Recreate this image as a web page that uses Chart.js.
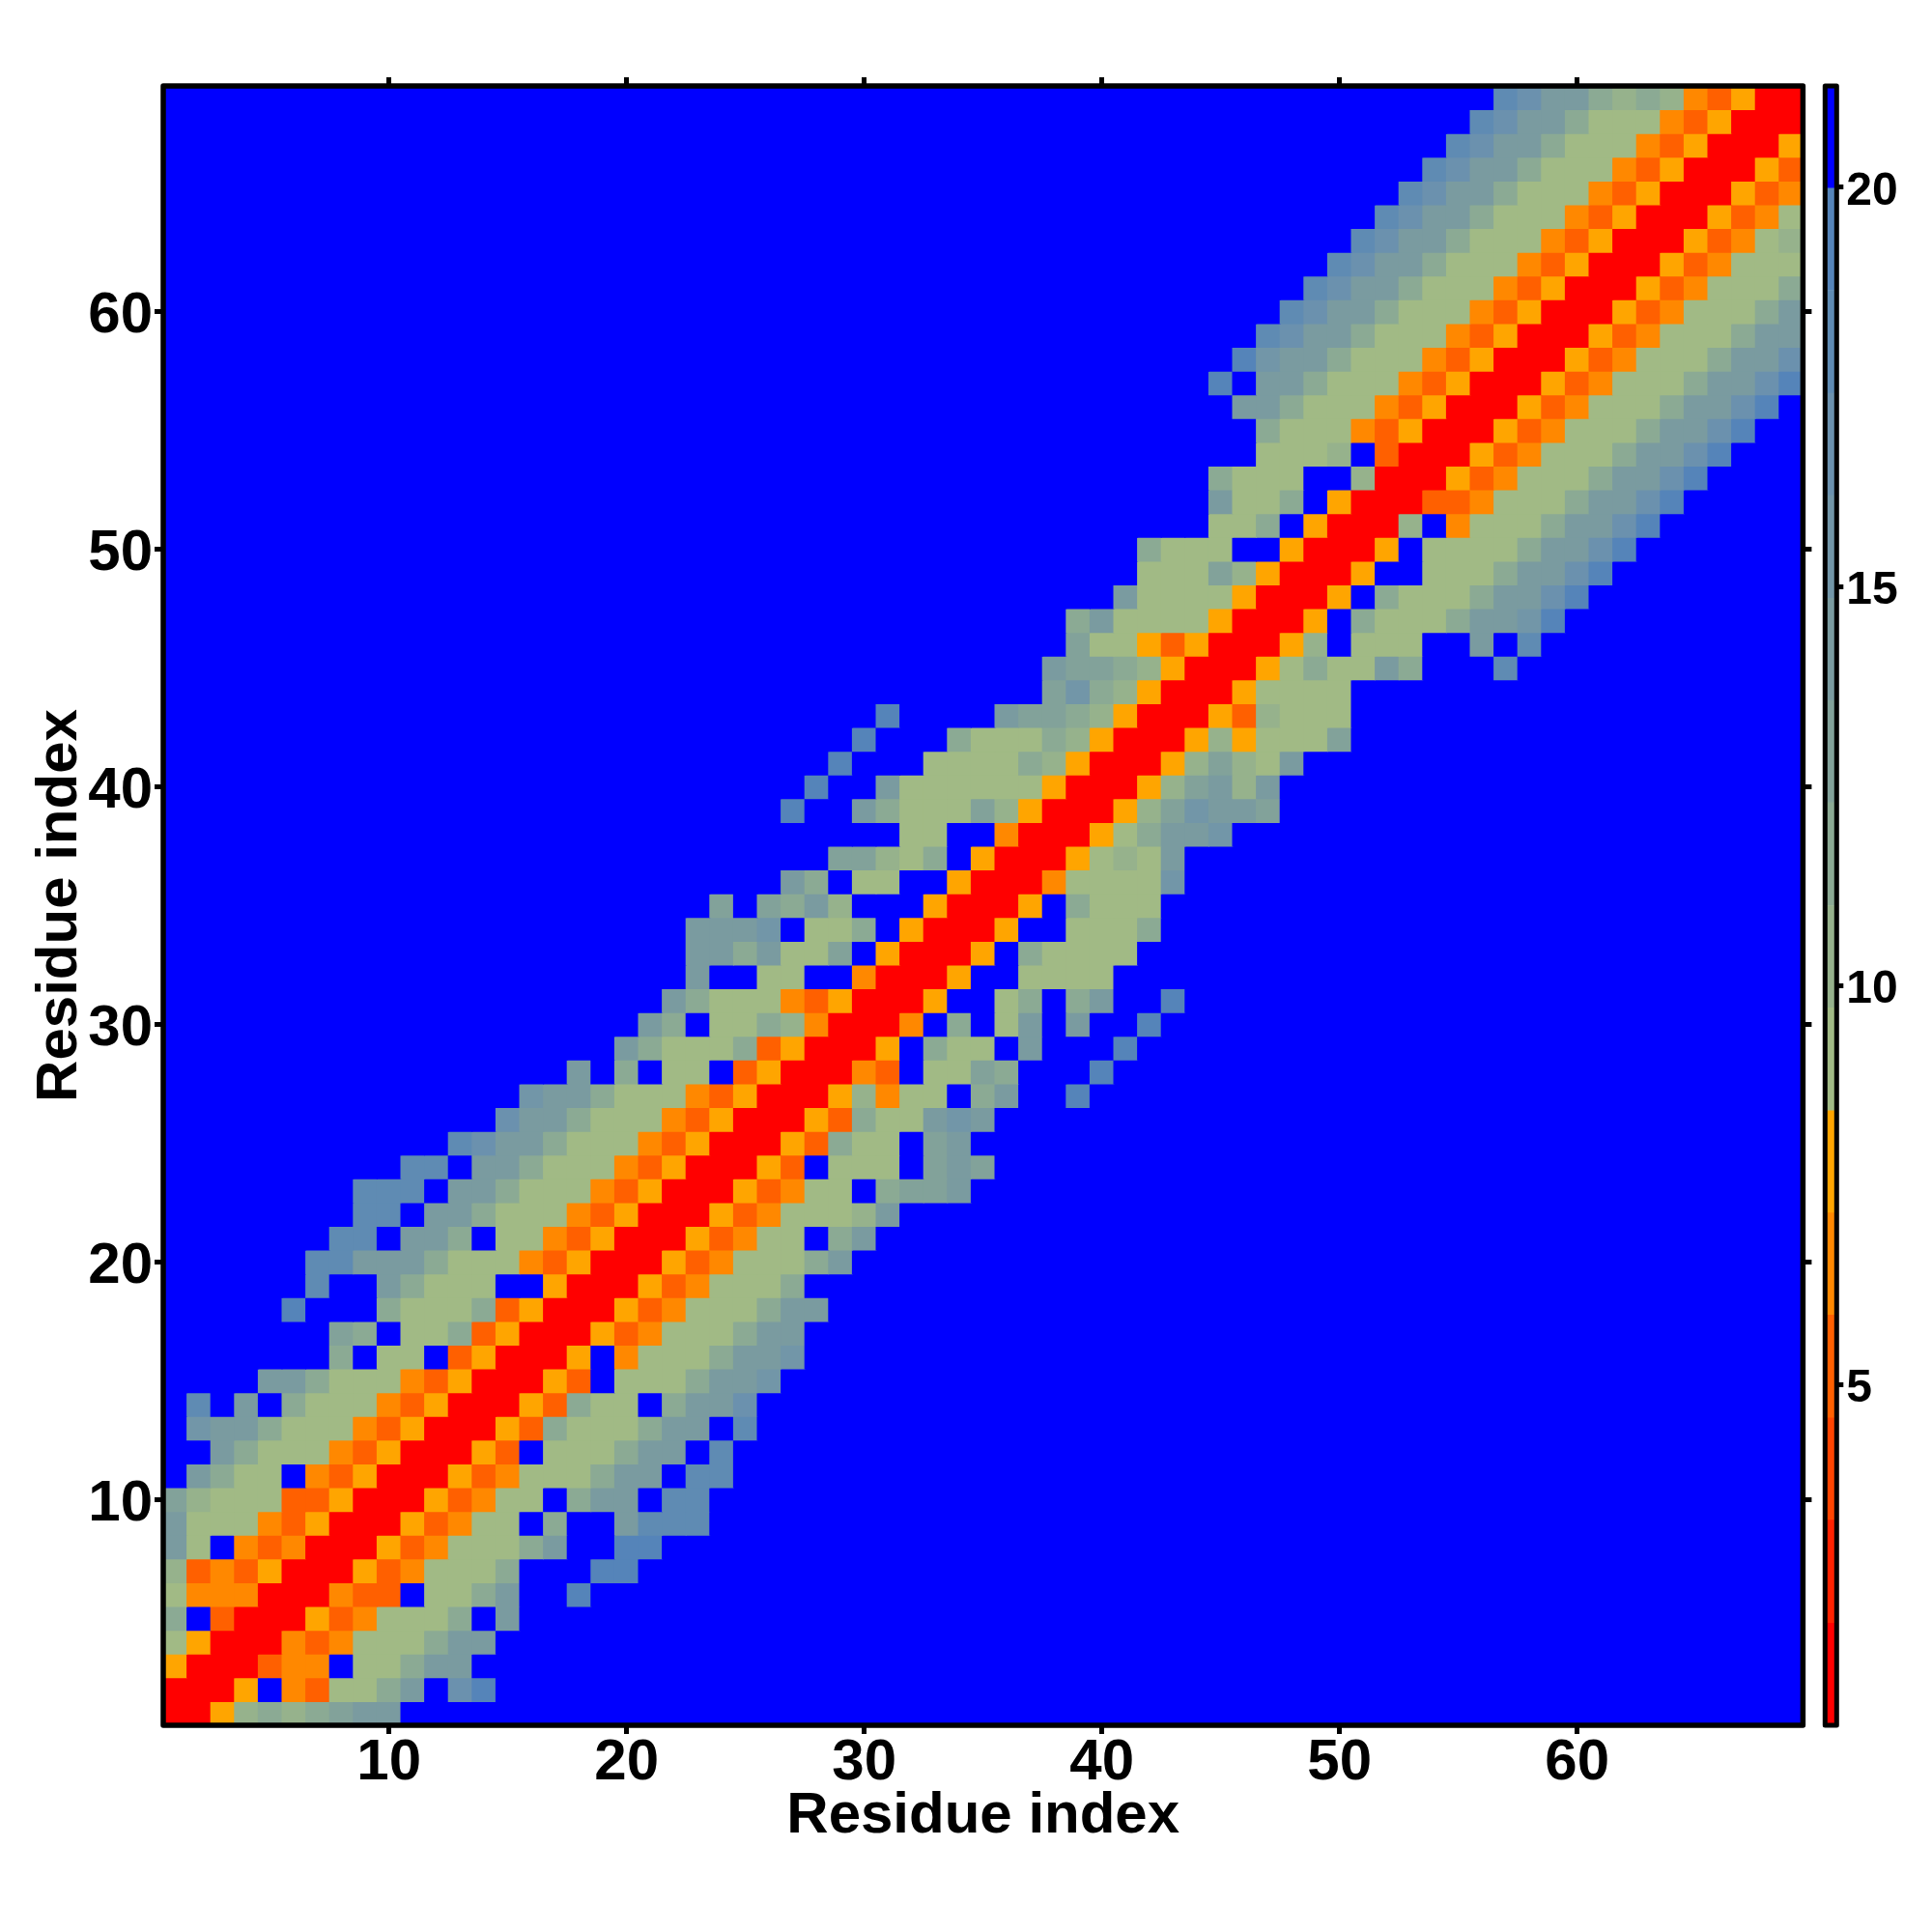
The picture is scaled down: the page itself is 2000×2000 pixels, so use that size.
<!DOCTYPE html>
<html>
<head>
<meta charset="utf-8">
<style>
  html, body { margin: 0; padding: 0; background: #fff; }
  canvas { position: absolute; left: 0; top: 0; }
</style>
<script src="https://cdn.jsdelivr.net/npm/chart.js@4/dist/chart.umd.min.js"></script>
</head>
<body>
<canvas id="mapChart" width="2000" height="2000"></canvas>
<canvas id="barChart" width="2000" height="2000"></canvas>
<script>
// colour level of each cell, hex digit per residue, '.' is the top (blue) level
// row 1 is at the bottom; rowBlank = blue cells before the string starts
const rowBlank = [
  0, 0, 0, 0, 0, 0, 0, 0, 0, 0, 1, 2, 1, 1, 4, 7, 7, 5, 6, 6, 7, 8, 8,
  10, 12, 14, 15, 17, 19, 20, 21, 22, 22, 22, 23, 26, 28, 31, 26, 27, 28, 29, 30,
  37, 37, 38, 38, 40, 41, 41, 44, 44, 44, 46, 46, 45, 44, 45, 46, 47, 48, 49, 50,
  51, 52, 53, 54, 55, 56
];
const rowLevels = [
  '00578789aa',
  '0005.43668a.ce',
  '5000344.668aa',
  '650004346668aa',
  '8.30005346668.a',
  '6444000433.668a..e',
  '734350005346668...ee',
  'a6.4340005346668a..ee',
  'a66643500053466.8..addd',
  '9766633500053466.8aa.dd',
  'a866.4350005346668aa.dd',
  'a866643500053.6668aa.d',
  'baa86664350005386668aa.d',
  'd.a.866643500053866.8aac',
  'aa866643500053.6668aab',
  '8.66.350005.46668aab',
  '98.668350005346668aa',
  'e...86668350005346668aa',
  'd..a8666..50005346668',
  'ddaaa86664350005346668a',
  'dd.aa8.6643500053466.8a',
  'dd.aa86664350005346667a',
  'ddd.aa866643500053466.899a',
  'dd.aa866643500053.666.9a9',
  'dcaa866643500053866.9a',
  'caa866643500053866aba',
  'baa866643500057466.8a..e',
  'a.8.66.3500043.6698...e',
  'a86668350005.866.a...e',
  'a8.668740004.8.6a.a..e',
  'a86664350005..68.8a..e',
  'a..66..40005..6666',
  'aa8a669.50005.86666',
  'aaab.668.50005..6668',
  '9.98a7...50005.8666',
  'a8.66..500046666b',
  '99768.50005676a',
  '66..4000568aab',
  'e..a8666975000579baa9',
  'e..a6666665000579a7a',
  'e...666687500057976a',
  'e...86668750005756669',
  'e....a99875000537666',
  '9b87500056666',
  'a9987500056866a8...d',
  '96653500057.666..a.d',
  '8a666650005.86668aabe',
  'a666650005.86668aace',
  '6669750005..6668aace',
  '8666..50005.66668aace',
  '668.50007.46668aace',
  'a668.50003346668aace',
  '8666..70005346668aace',
  '6667.30005346668aace',
  '86664350005346668aace',
  'aa86664350005346668aace',
  'e.aa86664350005346668aace',
  'ebaa86664350005346668aac',
  'dcaa86664350005346668aa',
  'dcaa86664350005346668a',
  'dcaa86664350005346668',
  'dcaa8666435000534666',
  'dcaa866643500053467',
  'dcaa86664350005346',
  'dcaa8666435000534',
  'dcaa866643500053',
  'dcaa86664350005',
  'dcaa8666435000',
  'dcaa878743500'
];
const levelColors = [
  '#ff0000', '#ff2200', '#ff4400', '#ff6000', '#ff8800', '#ffa500',
  '#a1ba85', '#96b28c', '#8baa94', '#82a29a', '#7a9ba0', '#7296a8',
  '#6b91ae', '#5f8bb3', '#5584b9', '#0000ff'
];
const colorbarEdges = [0.73, 2.01, 3.3, 4.58, 5.87, 7.15, 8.43, 9.72, 11, 12.29, 13.57, 14.85, 16.14, 17.42, 18.71, 19.99, 21.27];
const residueTicks = [10, 20, 30, 40, 50, 60];
const colorbarTicks = [5, 10, 15, 20];
const axisLabel = 'Residue index';
const residueCount = 69;

const fontFamily = "'Liberation Sans', Arial, sans-serif";

const cells = [];
const cellColors = [];
for (let r = 0; r < residueCount; r++) {
  const row = '.'.repeat(rowBlank[r]) + rowLevels[r];
  for (let c = 0; c < residueCount; c++) {
    const ch = c < row.length ? row[c] : '.';
    const level = ch === '.' ? 15 : parseInt(ch, 16);
    cells.push({x: c + 1, y: r + 1});
    cellColors.push(levelColors[level]);
  }
}

// box around the plot, spines stay over the cells
const frame = {
  id: 'frame',
  afterDraw(chart, args, opts) {
    const a = chart.chartArea;
    const ctx = chart.ctx;
    ctx.save();
    ctx.strokeStyle = '#000';
    ctx.lineWidth = opts.width;
    ctx.lineJoin = 'round';
    ctx.strokeRect(a.left, a.top, a.right - a.left, a.bottom - a.top);
    ctx.restore();
  }
};

function fixedTicks(values) {
  return function (scale) {
    scale.ticks = values.map(v => ({value: v}));
  };
}

function residueAxis(position, size, shown) {
  const horizontal = position === 'top' || position === 'bottom';
  return {
    type: 'linear',
    position: position,
    min: 0.5,
    max: residueCount + 0.5,
    afterBuildTicks: fixedTicks(residueTicks),
    afterFit(scale) {
      if (horizontal) scale.height = size; else scale.width = size;
    },
    border: {display: false},
    grid: {
      drawOnChartArea: false,
      drawTicks: true,
      tickLength: 9,
      tickWidth: 5,
      tickColor: '#000'
    },
    ticks: {
      display: shown,
      color: '#000',
      padding: horizontal ? -5.5 : 2,
      labelOffset: horizontal ? 0 : 5,
      maxRotation: 0,
      autoSkip: false,
      font: {family: fontFamily, size: 60, weight: 'bold'},
      callback: v => String(v)
    },
    title: {
      display: shown,
      text: axisLabel,
      color: '#000',
      font: {family: fontFamily, size: 60, weight: 'bold'},
      padding: horizontal ? {top: 0, bottom: 84} : {top: 26, bottom: 0}
    }
  };
}

new Chart(document.getElementById('mapChart').getContext('2d'), {
  type: 'scatter',
  data: {
    datasets: [{
      data: cells,
      pointStyle: 'rect',
      pointBackgroundColor: cellColors,
      pointBorderWidth: 0,
      pointRadius: function (context) {
        const x = context.chart.scales.x;
        if (!x) return 0;
        const w = Math.abs(x.getPixelForValue(1) - x.getPixelForValue(0));
        return (w / 2 + 0.5) / Math.SQRT1_2;
      },
      pointHoverRadius: 0
    }]
  },
  options: {
    responsive: false,
    animation: false,
    events: [],
    layout: {padding: {left: 0, top: 80, right: 124.6, bottom: 0}},
    plugins: {legend: {display: false}, tooltip: {enabled: false}, frame: {width: 5.5}},
    scales: {
      x: residueAxis('bottom', 214, true),
      y: residueAxis('left', 169, true),
      xTop: residueAxis('top', 9, false),
      yRight: residueAxis('right', 9, false)
    }
  },
  plugins: [frame]
});

const bandSets = levelColors.map((color, i) => ({
  data: [[colorbarEdges[i], colorbarEdges[i + 1]]],
  backgroundColor: color,
  borderWidth: 0,
  barPercentage: 1,
  categoryPercentage: 1
}));

new Chart(document.getElementById('barChart').getContext('2d'), {
  type: 'bar',
  data: {labels: [''], datasets: bandSets},
  options: {
    responsive: false,
    animation: false,
    events: [],
    layout: {padding: {left: 1889.3, top: 89, right: 0, bottom: 214}},
    plugins: {legend: {display: false}, tooltip: {enabled: false}, frame: {width: 5}},
    scales: {
      x: {display: false, stacked: true},
      y: {
        position: 'right',
        min: colorbarEdges[0],
        max: colorbarEdges[colorbarEdges.length - 1],
        afterBuildTicks: fixedTicks(colorbarTicks),
        afterFit(scale) { scale.width = 98.7; },
        border: {display: false},
        grid: {drawOnChartArea: false, drawTicks: true, tickLength: 7, tickWidth: 5, tickColor: '#000'},
        ticks: {
          color: '#000',
          padding: 3,
          labelOffset: 5,
          autoSkip: false,
          font: {family: fontFamily, size: 48, weight: 'bold'},
          callback: v => String(v)
        }
      }
    }
  },
  plugins: [frame]
});
</script>
</body>
</html>
